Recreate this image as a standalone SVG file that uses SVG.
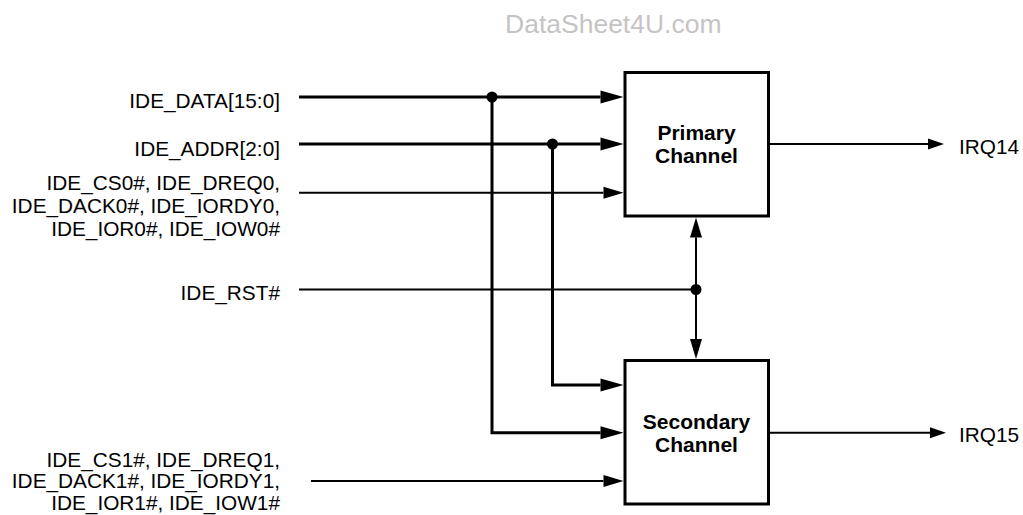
<svg xmlns="http://www.w3.org/2000/svg" width="1023" height="515" viewBox="0 0 1023 515">
  <style>
    .lbl { font-family: "Liberation Sans", Arial, sans-serif; font-size: 20.8px; fill: #000; }
    .end { text-anchor: end; }
    .box { fill: #fff; stroke: #000; stroke-width: 3; }
    .title { font-family: "Liberation Sans", Arial, sans-serif; font-size: 21px; font-weight: bold; text-anchor: middle; fill: #000; }
    .bus { fill: none; stroke: #000; stroke-width: 3; stroke-linejoin: miter; }
    .sig { fill: none; stroke: #000; stroke-width: 2; stroke-linejoin: miter; }
    .mark { font-family: "Liberation Sans", Arial, sans-serif; font-size: 26.5px; fill: #c4c4c4; }
  </style>
  <defs>
    <!-- arrowheads: base sits at the line end, tip extends forward -->
    <marker id="arrBus" markerUnits="userSpaceOnUse" markerWidth="23" markerHeight="13" refX="0" refY="6.5" orient="auto" overflow="visible">
      <path d="M0,0 L23,6.5 L0,13 Z" fill="#000"/>
    </marker>
    <marker id="arrSig" markerUnits="userSpaceOnUse" markerWidth="20" markerHeight="12" refX="0" refY="6" orient="auto" overflow="visible">
      <path d="M0,0 L20,6 L0,12 Z" fill="#000"/>
    </marker>
    <marker id="arrOut" markerUnits="userSpaceOnUse" markerWidth="16" markerHeight="11" refX="0" refY="5.5" orient="auto" overflow="visible">
      <path d="M0,0 L16,5.5 L0,11 Z" fill="#000"/>
    </marker>
  </defs>

  <text class="mark" x="505" y="33">DataSheet4U.com</text>

  <!-- signal connectors -->
  <g id="connectors">
    <path class="bus" d="M299,97 H600.5" marker-end="url(#arrBus)"/>
    <path class="bus" d="M492,97 V432.7 H600.5" marker-end="url(#arrBus)"/>
    <path class="bus" d="M299,144 H600.5" marker-end="url(#arrBus)"/>
    <path class="bus" d="M552.5,144 V385 H600.5" marker-end="url(#arrBus)"/>
    <path class="sig" d="M299,192.7 H603.5" marker-end="url(#arrSig)"/>
    <path class="sig" d="M299,289.5 H696"/>
    <path class="sig" d="M696,289.5 V237.5" marker-end="url(#arrSig)"/>
    <path class="sig" d="M696,289.5 V339" marker-end="url(#arrSig)"/>
    <path class="sig" d="M311,481 H603.5" marker-end="url(#arrSig)"/>
    <path class="sig" d="M770,144 H928" marker-end="url(#arrOut)"/>
    <path class="sig" d="M770,432.7 H930" marker-end="url(#arrOut)"/>
    <circle cx="492" cy="97" r="5.5" fill="#000"/>
    <circle cx="552.5" cy="144" r="5.5" fill="#000"/>
    <circle cx="696" cy="289.5" r="5.5" fill="#000"/>
  </g>

  <g id="primary-channel">
    <rect class="box" x="625" y="72.5" width="143.5" height="143.5"/>
    <text class="title" x="696.5" y="140">Primary</text>
    <text class="title" x="696.5" y="163">Channel</text>
  </g>

  <g id="secondary-channel">
    <rect class="box" x="625" y="360.5" width="143.5" height="143.5"/>
    <text class="title" x="696.5" y="428.5">Secondary</text>
    <text class="title" x="696.5" y="451.5">Channel</text>
  </g>

  <g id="in-data"><text class="lbl end" x="280" y="107.5">IDE_DATA[15:0]</text></g>
  <g id="in-addr"><text class="lbl end" x="280" y="155.5">IDE_ADDR[2:0]</text></g>
  <g id="in-ctrl0">
    <text class="lbl end" x="280" y="189.5">IDE_CS0#, IDE_DREQ0,</text>
    <text class="lbl end" x="280" y="212.5">IDE_DACK0#, IDE_IORDY0,</text>
    <text class="lbl end" x="280" y="235.5">IDE_IOR0#, IDE_IOW0#</text>
  </g>
  <g id="in-rst"><text class="lbl end" x="280" y="299.5">IDE_RST#</text></g>
  <g id="in-ctrl1">
    <text class="lbl end" x="280" y="466.5">IDE_CS1#, IDE_DREQ1,</text>
    <text class="lbl end" x="280" y="488">IDE_DACK1#, IDE_IORDY1,</text>
    <text class="lbl end" x="280" y="509.5">IDE_IOR1#, IDE_IOW1#</text>
  </g>
  <g id="out-irq14"><text class="lbl" x="959" y="154">IRQ14</text></g>
  <g id="out-irq15"><text class="lbl" x="959" y="442">IRQ15</text></g>
</svg>
